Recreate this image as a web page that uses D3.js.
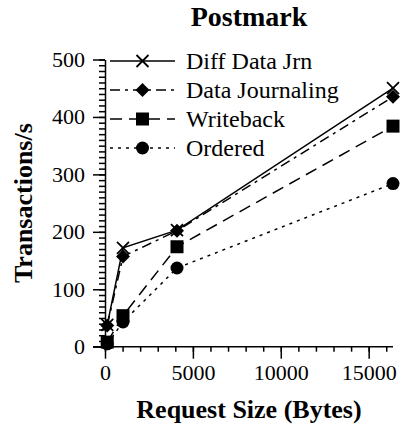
<!DOCTYPE html>
<html>
<head>
<meta charset="utf-8">
<script src="https://cdn.jsdelivr.net/npm/d3@7"></script>
<style>
body { margin: 0; background: #fff; }
svg { display: block; }
svg text { font-family: "Liberation Serif", "Times New Roman", serif; }
</style>
</head>
<body>
<svg width="401" height="429"></svg>
<script>
const sizes = [128, 1024, 4096, 16384];
const diffDataJrn = [38, 172, 203, 450];
const dataJournaling = [37, 157, 202, 435];
const writeback = [8, 54, 174, 384];
const ordered = [5, 43, 137, 284];
const seriesNames = ['Diff Data Jrn', 'Data Journaling', 'Writeback', 'Ordered'];
const xTicks = [0, 5000, 10000, 15000];
const yTicks = [0, 100, 200, 300, 400, 500];

const svg = d3.select('svg');
const serif = '"Liberation Serif", "Times New Roman", serif';

const x = d3.scaleLinear().domain([0, 16384]).range([105, 393]);
const y = d3.scaleLinear().domain([0, 500]).range([346.7, 59.5]);

const styles = [
	{ dash: null, marker: 'x' },
	{ dash: '10,5,3,5', marker: 'diamond' },
	{ dash: '12,7', marker: 'square' },
	{ dash: '3,5', marker: 'circle' }
];
const allSeries = [diffDataJrn, dataJournaling, writeback, ordered];

// axes
const xMinor = d3.range(0, 16001, 1000);
const yMinor = d3.range(0, 501, 10);

svg.append('g')
	.attr('transform', `translate(0, ${y(0)})`)
	.call(d3.axisBottom(x).tickValues(xMinor).tickSize(5).tickFormat('').tickSizeOuter(0))
	.call(g => g.select('.domain').remove());
svg.append('g')
	.attr('transform', `translate(0, ${y(0)})`)
	.call(d3.axisBottom(x).tickValues(xTicks).tickSize(12).tickPadding(6).tickFormat(d3.format('d')).tickSizeOuter(0))
	.call(g => g.select('.domain').attr('d', `M${x(0) - 12},0H${x(16384)}`));

svg.append('g')
	.attr('transform', `translate(${x(0)}, 0)`)
	.call(d3.axisLeft(y).tickValues(yMinor).tickSize(6).tickFormat('').tickSizeOuter(0))
	.call(g => g.select('.domain').remove());
svg.append('g')
	.attr('transform', `translate(${x(0)}, 0)`)
	.call(d3.axisLeft(y).tickValues(yTicks).tickSize(12).tickPadding(8).tickSizeOuter(0));

svg.selectAll('g').attr('font-family', null);
svg.selectAll('.tick line, .domain').attr('stroke', '#000').attr('stroke-width', 1.5);
svg.selectAll('.tick text')
	.style('font-family', serif)
	.attr('font-size', 22)
	.attr('fill', '#000');

// titles
svg.append('text')
	.attr('x', 249).attr('y', 26)
	.attr('text-anchor', 'middle')
	.style('font-family', serif).attr('font-weight', 'bold').attr('font-size', 28)
	.text('Postmark');
svg.append('text')
	.attr('x', 249).attr('y', 418)
	.attr('text-anchor', 'middle')
	.style('font-family', serif).attr('font-weight', 'bold').attr('font-size', 26)
	.text('Request Size (Bytes)');
svg.append('text')
	.attr('transform', `translate(32, ${(y(0) + y(500)) / 2}) rotate(-90)`)
	.attr('text-anchor', 'middle')
	.style('font-family', serif).attr('font-weight', 'bold').attr('font-size', 26)
	.text('Transactions/s');

function drawMarker(g, type, cx, cy) {
	if (type === 'x') {
		g.append('path')
			.attr('d', `M${cx - 6},${cy - 6}L${cx + 6},${cy + 6}M${cx - 6},${cy + 6}L${cx + 6},${cy - 6}`)
			.attr('stroke', '#000').attr('stroke-width', 1.8).attr('fill', 'none');
	} else if (type === 'diamond') {
		g.append('path')
			.attr('d', `M${cx},${cy - 7}L${cx + 7},${cy}L${cx},${cy + 7}L${cx - 7},${cy}Z`)
			.attr('fill', '#000');
	} else if (type === 'square') {
		g.append('rect')
			.attr('x', cx - 6.5).attr('y', cy - 6.5).attr('width', 13).attr('height', 13)
			.attr('fill', '#000');
	} else {
		g.append('circle').attr('cx', cx).attr('cy', cy).attr('r', 6.5).attr('fill', '#000');
	}
}

const line = d3.line().x(d => x(d[0])).y(d => y(d[1]));
const plot = svg.append('g');

allSeries.forEach((vals, i) => {
	const pts = sizes.map((s, j) => [s, vals[j]]);
	plot.append('path')
		.attr('d', line(pts))
		.attr('fill', 'none')
		.attr('stroke', '#000')
		.attr('stroke-width', 1.5)
		.attr('stroke-dasharray', styles[i].dash);
	pts.forEach(p => drawMarker(plot, styles[i].marker, x(p[0]), y(p[1])));
});

// legend
const legend = svg.append('g');
seriesNames.forEach((name, i) => {
	const ly = 61 + i * 29;
	legend.append('line')
		.attr('x1', 110).attr('x2', 175).attr('y1', ly).attr('y2', ly)
		.attr('stroke', '#000').attr('stroke-width', 1.5)
		.attr('stroke-dasharray', styles[i].dash);
	drawMarker(legend, styles[i].marker, 142.5, ly);
	legend.append('text')
		.attr('x', 186).attr('y', ly + 8)
		.style('font-family', serif).attr('font-size', 24)
		.text(name);
});
</script>
</body>
</html>
